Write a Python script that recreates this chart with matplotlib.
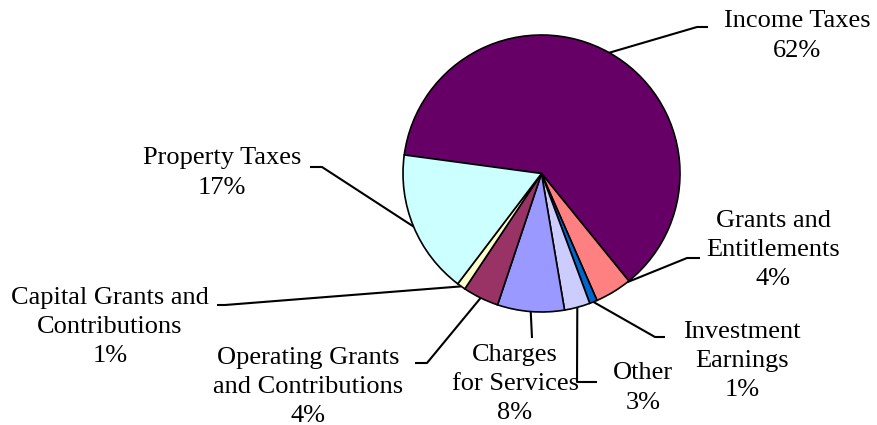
import matplotlib.pyplot as plt
import numpy as np

plt.rcParams['font.family'] = ['Liberation Serif', 'DejaVu Serif']

# slices, clockwise starting at Income Taxes
labels = ["Income Taxes\n62%", "Grants and\nEntitlements\n4%", "Investment\nEarnings\n1%",
          "Other\n3%", "Charges\nfor Services\n8%", "Operating Grants\nand Contributions\n4%",
          "Capital Grants and\nContributions\n1%", "Property Taxes\n17%"]
shares = [62.0, 4.3, 0.9, 3.0, 7.8, 4.2, 1.0, 16.8]
colors = ["#660066", "#FF8080", "#0066CC", "#CCCCFF", "#9999FF", "#993366", "#FFFFCC", "#CCFFFF"]

# layout in pixels (y from top)
W, H = 877, 425
cx, cy, r = 541.5, 173.5, 138.5
start = 172.3
text_pos = [(797, 36), (773, 250), (742, 361), (643, 388), (515, 384),
             (308, 387), (110, 327), (222, 173)]
attach_frac = [0.5, 0.05, 0.5, 0.5, 0.5, 0.5, 0.5, 0.5]
elbows = [[(697, 27), (708, 27)], [(687, 258), (700, 258)], [(655, 337), (665, 337)],
          [(577, 382), (597, 382)], [(532, 338)], [(427, 363), (415, 363)],
          [(225, 305), (217, 305)], [(322, 167), (310, 167)]]

fig = plt.figure(figsize=(W / 100, H / 100), dpi=100)
ax = fig.add_axes([0, 0, 1, 1])

ax.pie(shares, colors=colors, startangle=start, counterclock=False,
       center=(cx, H - cy), radius=r,
       wedgeprops=dict(edgecolor='black', linewidth=1.2))

total = sum(shares)
cum = 0.0
for lab, v, (tx, ty), fr, pts in zip(labels, shares, text_pos, attach_frac, elbows):
    theta = np.deg2rad(start - 360 * (cum + fr * v) / total)
    x0 = cx + r * np.cos(theta)
    y0 = H - cy + r * np.sin(theta)
    xs = [x0] + [p[0] for p in pts]
    ys = [y0] + [H - p[1] for p in pts]
    ax.plot(xs, ys, color='black', lw=1.5, solid_capstyle='butt')
    ax.text(tx, H - ty, lab, ha='center', va='center', fontsize=19,
            linespacing=1.42)
    cum += v

ax.set_xlim(0, W)
ax.set_ylim(0, H)
ax.set_aspect('auto')
ax.axis('off')

plt.savefig("out.png", dpi=100)
